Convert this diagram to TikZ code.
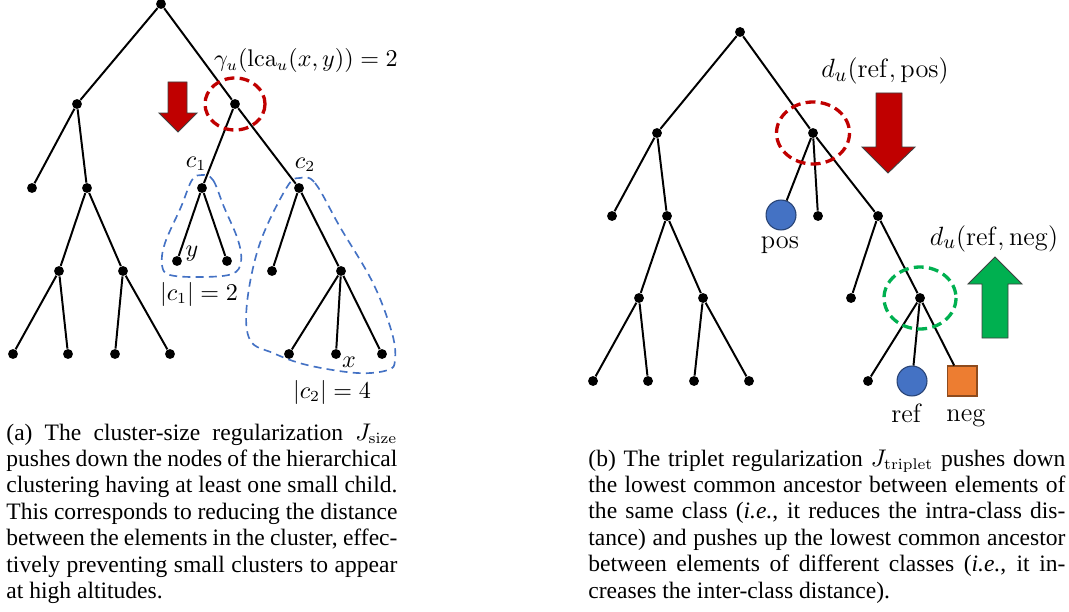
\documentclass[tikz,border=0pt]{standalone}
\usepackage[no-math]{fontspec}
\setmainfont{Liberation Serif}
\definecolor{dred}{HTML}{C00000}
\definecolor{dgreen}{HTML}{00B050}
\definecolor{mblue}{HTML}{4472C4}
\definecolor{morange}{HTML}{ED7D31}
\tikzset{
  dot/.style={circle, fill=black, inner sep=0pt, minimum size=4.5pt},
  edge/.style={line width=0.9pt, black},
  bigball/.style={circle, fill=mblue, draw=mblue!60!black, line width=0.5pt, inner sep=0pt, minimum size=13.6pt},
  sqbox/.style={rectangle, fill=morange, draw=morange!60!black, line width=0.5pt, inner sep=0pt, minimum size=13.6pt},
  lca/.style={line width=1.5pt, dash pattern=on 4.5pt off 2.4pt},
  clust/.style={draw=mblue, line width=0.75pt, dash pattern=on 3.6pt off 2.4pt},
  bigarrow/.style={draw=black!75, line width=0.4pt},
  lab/.style={inner sep=0pt, anchor=base, font=\fontsize{10.5}{12}\selectfont},
  rlab/.style={inner sep=0pt, anchor=base, font=\fontsize{12.5}{14}\selectfont},
  dlab/.style={inner sep=0pt, anchor=base, font=\fontsize{13.2}{15}\selectfont},
  capt/.style={inner sep=0pt, anchor=base west, font=\fontsize{10.7}{12.04}\selectfont},
}
\begin{document}
\begin{tikzpicture}[x=0.4545pt, y=-0.4545pt]
\useasboundingbox (0,0) rectangle (1069,611);
% ---------------- left tree ----------------
\node[dot] (r0) at (161,4) {};
\node[dot] (a) at (77,104) {};
\node[dot] (b) at (235,104) {};
\node[dot] (a1) at (32,188) {};
\node[dot] (a2) at (87,188) {};
\node[dot] (a21) at (59,271) {};
\node[dot] (a22) at (123,271) {};
\node[dot] (a211) at (13,354) {};
\node[dot] (a212) at (68,354) {};
\node[dot] (a221) at (115,354) {};
\node[dot] (a222) at (170,354) {};
\node[dot] (c1) at (202,188) {};
\node[dot] (c2) at (299,188) {};
\node[dot] (c11) at (177,261) {};
\node[dot] (c12) at (227,261) {};
\node[dot] (c21) at (272,271) {};
\node[dot] (c22) at (341,271) {};
\node[dot] (c221) at (289,354) {};
\node[dot] (c222) at (336,354) {};
\node[dot] (c223) at (382,354) {};
\foreach \u/\v in {r0/a, r0/b, a/a1, a/a2, a2/a21, a2/a22, a21/a211, a21/a212, a22/a221, a22/a222,
  b/c1, b/c2, c1/c11, c1/c12, c2/c21, c2/c22, c22/c221, c22/c222, c22/c223}
  \draw[edge] (\u) -- (\v);
% lca circle
\draw[lca, draw=dred] (b) ellipse [x radius=30, y radius=26];
% clusters
\draw[clust] plot[smooth cycle, tension=0.6] coordinates {(202,175) (213,180) (224,207) (238,240) (241,262) (232,274) (202,277) (170,275) (162,265) (165,243) (181,207) (192,180)};
\draw[clust] plot[smooth cycle, tension=0.6] coordinates {(300,178) (315,183) (340,227) (373,283) (392,333) (395,360) (388,370) (357,373) (307,365) (273,353) (250,340) (247,303) (260,243) (287,187)};
% red down arrow
\draw[bigarrow, fill=dred] (168,82) -- (187,82) -- (187,113) -- (197,113) -- (178,132) -- (159,113) -- (168,113) -- cycle;
% labels
\node[lab] (lg) at (306,67) {$\gamma_u\big(\mathrm{lca}_u(x,y)\big) = 2$};
\node[lab] (lc1) at (196,167) {$c_1$};
\node[lab] (lc2) at (305,168) {$c_2$};
\node[lab] (ly) at (192,256) {$y$};
\node[lab] (lx) at (349,367) {$x$};
\node[lab] (ls1) at (199,300) {$|c_1| = 2$};
\node[lab] (ls2) at (332,398) {$|c_2| = 4$};
% ---------------- right tree ----------------
\node[dot] (s0) at (740,32) {};
\node[dot] (sl) at (657,133) {};
\node[dot] (sr) at (813,133) {};
\node[dot] (sl1) at (612,216) {};
\node[dot] (sl2) at (667,216) {};
\node[dot] (sl21) at (639,298) {};
\node[dot] (sl22) at (703,298) {};
\node[dot] (sl211) at (593,381) {};
\node[dot] (sl212) at (648,381) {};
\node[dot] (sl221) at (694,381) {};
\node[dot] (sl222) at (749,381) {};
\node[bigball] (pos) at (781,215) {};
\node[dot] (sr2) at (818,216) {};
\node[dot] (sr3) at (878,216) {};
\node[dot] (sr31) at (851,298) {};
\node[dot] (sr32) at (920,298) {};
\node[dot] (sr321) at (868,381) {};
\node[bigball] (ref) at (912,381) {};
\node[sqbox] (neg) at (962,381) {};
\foreach \u/\v in {s0/sl, s0/sr, sl/sl1, sl/sl2, sl2/sl21, sl2/sl22, sl21/sl211, sl21/sl212, sl22/sl221, sl22/sl222,
  sr/pos, sr/sr2, sr/sr3, sr3/sr31, sr3/sr32, sr32/sr321, sr32/ref, sr32/neg}
  \draw[edge] (\u) -- (\v);
\draw[lca, draw=dred] (sr) ellipse [x radius=36.5, y radius=31];
\draw[lca, draw=dgreen] (sr32) ellipse [x radius=36, y radius=31];
% arrows
\draw[bigarrow, fill=dred] (876,93) -- (902,93) -- (902,147) -- (915,147) -- (888,173) -- (862,147) -- (876,147) -- cycle;
\draw[bigarrow, fill=dgreen] (982,338) -- (1008,338) -- (1008,284) -- (1022,284) -- (995,257) -- (968,284) -- (982,284) -- cycle;
% labels
\node[dlab] (dpos) at (885,78) {$d_u(\mathrm{ref},\mathrm{pos})$};
\node[dlab] (dneg) at (994,245) {$d_u(\mathrm{ref},\mathrm{neg})$};
\node[rlab] (tpos) at (780,248) {$\mathrm{pos}$};
\node[rlab] (tref) at (907,422) {$\mathrm{ref}$};
\node[rlab] (tneg) at (966,421) {$\mathrm{neg}$};
% ---------------- captions ----------------
\node[capt] (capa) at (6,440) {\parbox[t]{177.7pt}{\setlength{\parindent}{0pt}%
\makebox[\linewidth][s]{(a) The cluster-size regularization $J_{\mathrm{size}}$}\\
\makebox[\linewidth][s]{pushes down the nodes of the hierarchical}\\
\makebox[\linewidth][s]{clustering having at least one small child.}\\
\makebox[\linewidth][s]{This corresponds to reducing the distance}\\
\makebox[\linewidth][s]{between the elements in the cluster, effec-}\\
\makebox[\linewidth][s]{tively preventing small clusters to appear}\\
at high altitudes.}};
\node[capt] (capb) at (588,466) {\parbox[t]{216.8pt}{\setlength{\parindent}{0pt}%
\makebox[\linewidth][s]{(b) The triplet regularization $J_{\mathrm{triplet}}$ pushes down}\\
\makebox[\linewidth][s]{the lowest common ancestor between elements of}\\
\makebox[\linewidth][s]{the same class (\textit{i.e.}, it reduces the intra-class dis-}\\
\makebox[\linewidth][s]{tance) and pushes up the lowest common ancestor}\\
\makebox[\linewidth][s]{between elements of different classes (\textit{i.e.}, it in-}\\
creases the inter-class distance).}};
\end{tikzpicture}
\end{document}
